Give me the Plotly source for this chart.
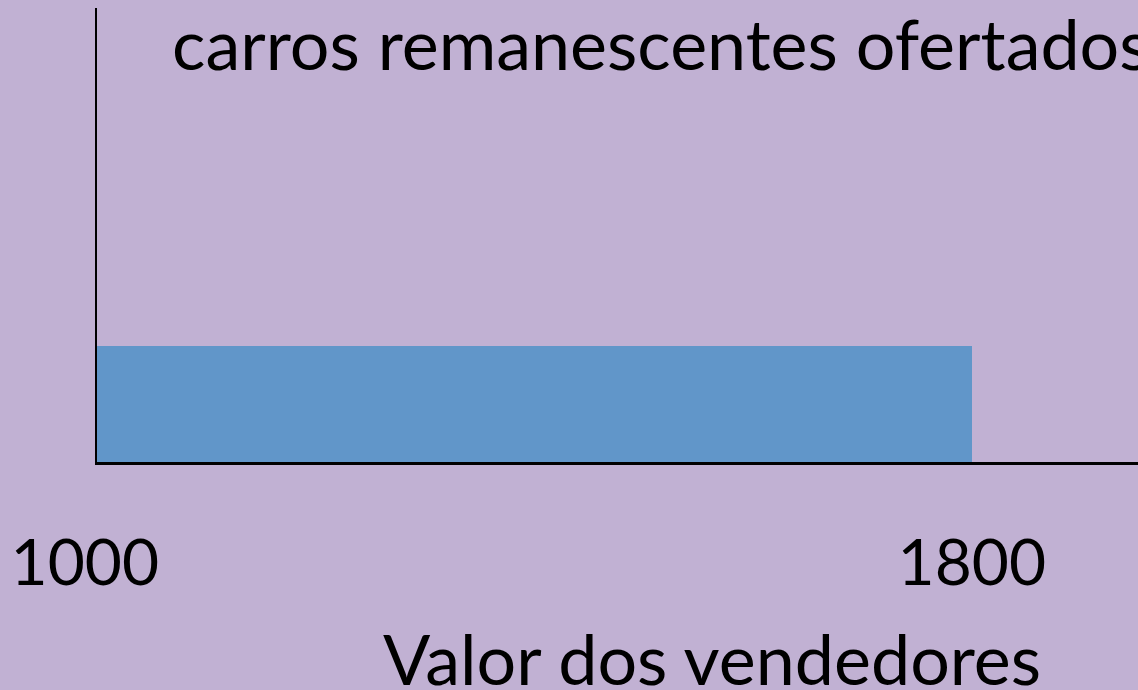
import plotly.graph_objects as go

# Data
seller_low = [1000]
seller_high = [1800]
quantity = [1]
tick_vals = [1000, 1800]
tick_text = ["1000\u00a0\u2009", "1800"]
y_title = "carros remanescentes ofertados"
x_title = "Valor dos vendedores"

BG = "#C1B1D3"
BAR = "#6196C9"
FONT = "Lato"

fig = go.Figure()
fig.add_trace(go.Bar(
    y=[q / 2 for q in quantity],
    x=[h - l for l, h in zip(seller_low, seller_high)],
    base=seller_low,
    width=quantity,
    orientation="h",
    marker=dict(color=BAR, line=dict(width=0)),
    hoverinfo="skip",
))

fig.update_layout(
    width=1138, height=690,
    margin=dict(l=97, r=0, t=8, b=228),
    paper_bgcolor=BG, plot_bgcolor=BG,
    showlegend=False,
    bargap=0,
    xaxis=dict(
        range=[1000, 1952], showgrid=False, zeroline=False,
        showline=True, linecolor="black", linewidth=3,
        tickmode="array", tickvals=tick_vals, ticktext=tick_text,
        ticks="", ticklabelstandoff=43,
        tickfont=dict(family=FONT, size=64, color="black"),
    ),
    yaxis=dict(
        range=[0, 3.91], showgrid=False, zeroline=False,
        showline=True, linecolor="black", linewidth=2,
        showticklabels=False, ticks="",
    ),
    annotations=[
        dict(text=y_title, xref="paper", yref="paper", x=0.0701, y=0.922,
             xanchor="left", yanchor="middle", showarrow=False,
             font=dict(family=FONT, size=70, color="black")),
        dict(text=x_title, xref="paper", yref="paper", x=0.591, y=-0.432,
             xanchor="center", yanchor="middle", showarrow=False,
             font=dict(family=FONT, size=70, color="black")),
    ],
)

fig.write_html(
    "out.html",
    config={"displayModeBar": False},
    post_script="document.body.style.margin='0';document.body.style.padding='0';",
)
